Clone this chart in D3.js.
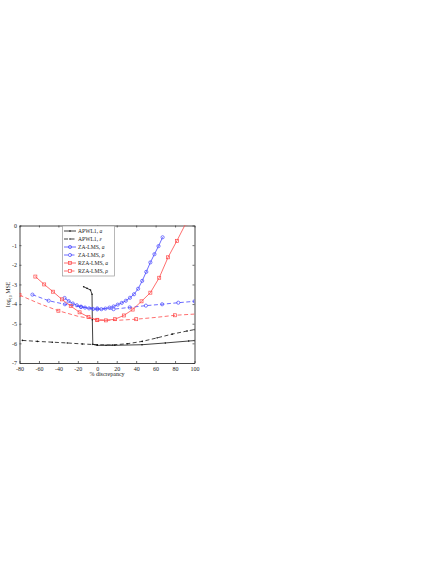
<!DOCTYPE html>
<html>
<head>
<meta charset="utf-8">
<script src="https://cdn.jsdelivr.net/npm/d3@7"></script>
<style>
  body { margin: 0; background: #fff; }
  svg text { font-family: "Liberation Serif", "DejaVu Serif", serif; fill: #222; }
</style>
</head>
<body>
<div id="chart"></div>
<script>
// ---------------------------------------------------------------------------
// data
// ---------------------------------------------------------------------------
var xTicks = [-80, -60, -40, -20, 0, 20, 40, 60, 80, 100];
var yTicks = [0, -1, -2, -3, -4, -5, -6, -7];

var apwlAX = [-14, -10.5, -7, -5.4, -5.1, -4.6, 0, 9, 18, 46, 70, 94, 100];
var apwlAY = [-3.12, -3.2, -3.28, -3.5, -4.8, -6.05, -6.1, -6.1, -6.1, -6.07, -5.98, -5.88, -5.86];

var apwlEX = [-77, -61.6, -46.2, -30.8, -15.4, 0, 15.4, 30.8, 46.2, 61.6, 77, 92.4, 100];
var apwlEY = [-5.85, -5.9, -5.94, -5.98, -6.03, -6.07, -6.08, -6.02, -5.9, -5.72, -5.53, -5.37, -5.3];

var zaAX = [-33.6, -29.4, -25.2, -21, -16.8, -12.6, -8.4, -4.2, 0, 4.2, 8.4, 12.6, 16.8,
            21, 25.2, 29.4, 33.6, 37.8, 42, 46.2, 50.4, 54.6, 58.8, 63, 67.2];
var zaAY = [-3.69, -3.85, -3.97, -4.06, -4.13, -4.18, -4.22, -4.25, -4.27, -4.26, -4.23, -4.18, -4.12,
            -4.03, -3.94, -3.83, -3.68, -3.5, -3.22, -2.82, -2.36, -1.88, -1.46, -1.05, -0.6];

var zaRX = [-66.7, -50, -33.3, -16.7, 0, 16.7, 33.3, 50, 66.7, 83.3, 100];
var zaRY = [-3.52, -3.83, -4.01, -4.15, -4.22, -4.26, -4.17, -4.08, -4.01, -3.93, -3.86];

var rzaAX = [-63.7, -54.6, -45.5, -36.4, -27.3, -18.2, -9.1, 0, 9.1, 18.2, 27.3, 36.4,
             45.5, 54.6, 63.7, 72.8, 81.9, 91];
var rzaAY = [-2.6, -3.0, -3.37, -3.76, -4.1, -4.42, -4.66, -4.82, -4.83, -4.77, -4.58, -4.28,
             -3.86, -3.42, -2.66, -1.62, -0.78, 0.1];

var rzaRX = [-80, -60, -40, -20, 0, 20, 40, 60, 80, 100];
var rzaRY = [-3.54, -3.97, -4.34, -4.62, -4.8, -4.83, -4.77, -4.68, -4.57, -4.51];

var labels = ["APWL1, ", "APWL1, ", "ZA-LMS, ", "ZA-LMS, ", "RZA-LMS, ", "RZA-LMS, "];
var params = ["a", "\u03b5", "a", "\u03c1", "a", "\u03c1"];

// ---------------------------------------------------------------------------
// chart
// ---------------------------------------------------------------------------
var BLUE = "#4646ff";
var RED = "#ff4a4a";

var series = [
  {x: apwlAX, y: apwlAY, color: "#111", dash: null, marker: "dot"},
  {x: apwlEX, y: apwlEY, color: "#111", dash: "4,2.5", marker: "dot"},
  {x: zaAX, y: zaAY, color: BLUE, dash: null, marker: "circle"},
  {x: zaRX, y: zaRY, color: BLUE, dash: "4,2.5", marker: "circle"},
  {x: rzaAX, y: rzaAY, color: RED, dash: null, marker: "square"},
  {x: rzaRX, y: rzaRY, color: RED, dash: "4,2.5", marker: "square", keep: function(x) { return x % 40 === 0; }}
];

var svg = d3.select("#chart").append("svg")
    .attr("width", 436)
    .attr("height", 564);

var xScale = d3.scaleLinear().domain([-80, 100]).range([19.5, 194.5]);
var yScale = d3.scaleLinear().domain([0, -7]).range([225.5, 363]);

svg.append("clipPath").attr("id", "plot-clip")
  .append("rect")
    .attr("x", xScale(-80)).attr("y", yScale(0))
    .attr("width", xScale(100) - xScale(-80))
    .attr("height", yScale(-7) - yScale(0));

// axes (ticks pointing inward, box on all four sides)
function styleAxis(g) {
  g.select(".domain").attr("stroke", "#333").attr("stroke-width", 0.9);
  g.selectAll(".tick line").attr("stroke", "#333").attr("stroke-width", 0.7);
  g.selectAll(".tick text").attr("font-size", 6).attr("fill", "#222")
    .attr("font-family", "Liberation Serif, serif");
}

svg.append("g")
    .attr("transform", "translate(0," + yScale(-7) + ")")
    .call(d3.axisBottom(xScale).tickValues(xTicks).tickSizeInner(-2).tickSizeOuter(0)
      .tickPadding(3.5).tickFormat(function(d) { return String(d); }))
    .call(styleAxis);

svg.append("g")
    .attr("transform", "translate(0," + yScale(0) + ")")
    .call(d3.axisTop(xScale).tickValues(xTicks).tickSizeInner(-2).tickSizeOuter(0).tickFormat(""))
    .call(styleAxis);

svg.append("g")
    .attr("transform", "translate(" + xScale(-80) + ",0)")
    .call(d3.axisLeft(yScale).tickValues(yTicks).tickSizeInner(-2).tickSizeOuter(0)
      .tickPadding(2.5).tickFormat(function(d) { return String(d); }))
    .call(styleAxis);

svg.append("g")
    .attr("transform", "translate(" + xScale(100) + ",0)")
    .call(d3.axisRight(yScale).tickValues(yTicks).tickSizeInner(-2).tickSizeOuter(0).tickFormat(""))
    .call(styleAxis);

// axis labels
var yLabel = svg.append("text")
    .attr("transform", "translate(10," + ((yScale(0) + yScale(-7)) / 2) + ") rotate(-90)")
    .attr("text-anchor", "middle")
    .attr("font-size", 6);
yLabel.append("tspan").text("log");
yLabel.append("tspan").attr("font-size", 4).attr("dy", 1.5).text("10");
yLabel.append("tspan").attr("dy", -1.5).text(" MSE");

svg.append("text")
    .attr("x", (xScale(-80) + xScale(100)) / 2)
    .attr("y", 376)
    .attr("text-anchor", "middle")
    .attr("font-size", 6)
    .text("% discrepancy");

// lines + markers
function drawMarker(g, kind, cx, cy, color) {
  if (kind === "circle") {
    g.append("circle").attr("cx", cx).attr("cy", cy).attr("r", 1.6)
      .attr("fill", "none").attr("stroke", color).attr("stroke-width", 0.7);
  } else if (kind === "square") {
    g.append("rect").attr("x", cx - 1.5).attr("y", cy - 1.5).attr("width", 3).attr("height", 3)
      .attr("fill", "none").attr("stroke", color).attr("stroke-width", 0.7);
  } else {
    g.append("circle").attr("cx", cx).attr("cy", cy).attr("r", 0.8).attr("fill", color);
  }
}

var plot = svg.append("g").attr("clip-path", "url(#plot-clip)");

series.forEach(function(s) {
  var pts = s.x.map(function(d, i) { return [d, s.y[i]]; });
  var line = d3.line()
      .x(function(d) { return xScale(d[0]); })
      .y(function(d) { return yScale(d[1]); });
  plot.append("path")
      .datum(pts)
      .attr("d", line)
      .attr("fill", "none")
      .attr("stroke", s.color)
      .attr("stroke-width", 0.8)
      .attr("stroke-dasharray", s.dash);
  var mg = plot.append("g");
  pts.forEach(function(p) {
    if (s.keep && !s.keep(p[0])) return;
    drawMarker(mg, s.marker, xScale(p[0]), yScale(p[1]), s.color);
  });
});

// legend
var legend = svg.append("g");
legend.append("rect")
    .attr("x", 62.5).attr("y", 226)
    .attr("width", 52).attr("height", 50)
    .attr("fill", "#fff").attr("stroke", "#999").attr("stroke-width", 0.7);

series.forEach(function(s, i) {
  var ly = 231 + i * 8;
  legend.append("line")
      .attr("x1", 64).attr("x2", 76).attr("y1", ly).attr("y2", ly)
      .attr("stroke", s.color).attr("stroke-width", 0.8)
      .attr("stroke-dasharray", s.dash);
  drawMarker(legend, s.marker, 70, ly, s.color);
  var t = legend.append("text")
      .attr("x", 78).attr("y", ly + 2)
      .attr("font-size", 5.6);
  t.append("tspan").text(labels[i]);
  t.append("tspan").attr("font-style", "italic").text(params[i]);
});
</script>
</body>
</html>
